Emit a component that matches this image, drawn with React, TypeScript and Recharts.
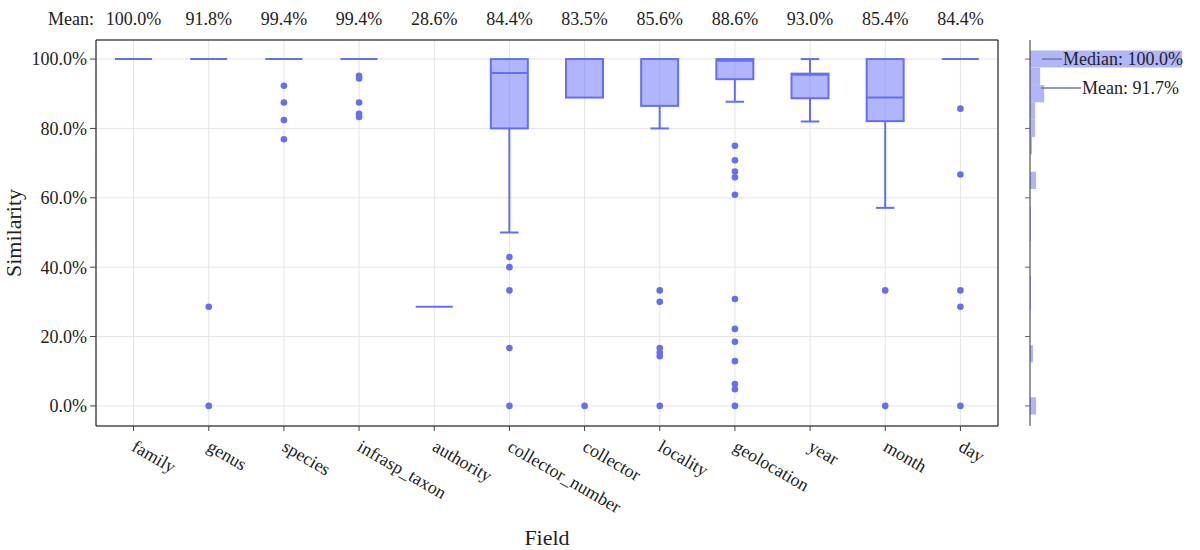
import React from 'react';
import { ComposedChart, Bar, Scatter, XAxis, YAxis, CartesianGrid, ReferenceLine } from 'recharts';

const FONT = '"Liberation Serif", "Times New Roman", serif';
const BLUE = '#636efa';
const BLUE_FILL = 'rgba(99, 110, 250, 0.5)';
const TEXT = '#222';

const fields = ['family', 'genus', 'species', 'infrasp_taxon', 'authority', 'collector_number', 'collector', 'locality', 'geolocation', 'year', 'month', 'day'];
const means = [100.0, 91.8, 99.4, 99.4, 28.6, 84.4, 83.5, 85.6, 88.6, 93.0, 85.4, 84.4];
const lowerFence = [100, 100, 100, 100, 28.6, 50, 88.9, 80, 87.7, 82, 57.1, 100];
const q1 = [100, 100, 100, 100, 28.6, 80, 88.9, 86.5, 94.2, 88.7, 82.1, 100];
const medians = [100, 100, 100, 100, 28.6, 96, 100, 100, 99.5, 95.5, 88.9, 100];
const q3 = [100, 100, 100, 100, 28.6, 100, 100, 100, 100, 95.8, 100, 100];
const upperFence = [100, 100, 100, 100, 28.6, 100, 100, 100, 100, 100, 100, 100];
const outliers: number[][] = [
  [],
  [28.6, 0],
  [92.3, 87.5, 82.4, 76.9],
  [95.2, 94.4, 87.5, 84.2, 83.3],
  [],
  [42.9, 40, 33.3, 16.7, 0],
  [0],
  [33.3, 30, 16.7, 15.4, 14.3, 0],
  [75, 70.8, 67.6, 65.9, 60.9, 30.8, 22.2, 18.5, 12.9, 6.3, 4.8, 0],
  [],
  [33.3, 0],
  [85.7, 66.7, 33.3, 28.6, 0],
];

const yTicks = [0, 20, 40, 60, 80, 100];
const yDomain: [number, number] = [-5.8, 105.5];

// distribution on the right margin
const histBins = [100, 95, 90, 85, 80, 75, 65, 55, 50, 35, 30, 15, 0];
const histCounts = [150, 10, 14, 5, 5, 2, 6, 1, 1, 1, 1, 3, 6];

const maxOutliers = Math.max(...outliers.map((o) => o.length));
const outlierKeys = Array.from({ length: maxOutliers }, (_, k) => `o${k}`);

const boxData = fields.map((field, i) => {
  const row: Record<string, any> = {
    field,
    mean: means[i],
    lo: lowerFence[i],
    q1: q1[i],
    med: medians[i],
    q3: q3[i],
    hi: upperFence[i],
  };
  outlierKeys.forEach((k, j) => {
    row[k] = outliers[i][j] ?? null;
  });
  return row;
});

const histData = histBins.map((bin, i) => ({ bin, count: histCounts[i] }));
const histTotal = histCounts.reduce((a, b) => a + b, 0);
const histMean = histBins.reduce((s, b, i) => s + b * histCounts[i], 0) / histTotal;
const histMedian = (() => {
  const sorted = histBins.map((b, i) => ({ b, c: histCounts[i] })).sort((a, b) => a.b - b.b);
  let acc = 0;
  for (const { b, c } of sorted) {
    acc += c;
    if (acc >= histTotal / 2) return b;
  }
  return 0;
})();

const pct = (v: number) => `${v.toFixed(1)}%`;

function BoxShape(props: any) {
  const { x, y, width, height, payload } = props;
  const { lo, q1: b1, med, q3: b3, hi } = payload;
  const top = height >= 0 ? y : y + height;
  const h = Math.abs(height);
  const span = hi - lo;
  const toY = (v: number) => (span > 0 ? top + ((hi - v) * h) / span : top);
  const cx = x + width / 2;
  const cap = width / 4;
  if (span === 0) {
    return <line x1={x} x2={x + width} y1={top} y2={top} stroke={BLUE} strokeWidth={2} />;
  }
  return (
    <g>
      {hi > b3 && <line x1={cx} x2={cx} y1={toY(hi)} y2={toY(b3)} stroke={BLUE} strokeWidth={2} />}
      {hi > b3 && <line x1={cx - cap} x2={cx + cap} y1={toY(hi)} y2={toY(hi)} stroke={BLUE} strokeWidth={2} />}
      {lo < b1 && <line x1={cx} x2={cx} y1={toY(b1)} y2={toY(lo)} stroke={BLUE} strokeWidth={2} />}
      {lo < b1 && <line x1={cx - cap} x2={cx + cap} y1={toY(lo)} y2={toY(lo)} stroke={BLUE} strokeWidth={2} />}
      <rect x={x} y={toY(b3)} width={width} height={toY(b1) - toY(b3)} fill={BLUE_FILL} stroke={BLUE} strokeWidth={2} />
      <line x1={x} x2={x + width} y1={toY(med)} y2={toY(med)} stroke={BLUE} strokeWidth={2} />
    </g>
  );
}

function OutlierDot(props: any) {
  const { cx, cy } = props;
  if (cx == null || cy == null || Number.isNaN(cy)) return null;
  return <circle cx={cx} cy={cy} r={3.3} fill={BLUE} />;
}

function FieldTick(props: any) {
  const { x, y, payload } = props;
  const tx = x - 3;
  const ty = y + 17;
  return (
    <text x={tx} y={ty} transform={`rotate(30, ${tx}, ${ty})`} fontSize={18} fontFamily={FONT} fill={TEXT} textAnchor="start">
      {payload.value}
    </text>
  );
}

function MeanTick(props: any) {
  const { x, index } = props;
  return (
    <text x={x} y={25} fontSize={18} fontFamily={FONT} fill={TEXT} textAnchor="middle">
      {pct(means[index])}
    </text>
  );
}

const EmptyTick = () => <g />;

function annotation(text: string, start: number, end: number) {
  return (props: any) => {
    const vb = props.viewBox || {};
    const x0 = vb.x ?? 0;
    const yy = vb.y ?? 0;
    return (
      <g>
        <line x1={x0 + start} x2={x0 + end} y1={yy} y2={yy} stroke="#6f7d93" strokeWidth={1.5} />
        <text x={x0 + end + 1} y={yy} dy="0.35em" fontSize={18} fontFamily={FONT} fill={TEXT}>
          {text}
        </text>
      </g>
    );
  };
}

export default function App() {
  return (
    <div style={{ position: 'absolute', left: 0, top: 0, width: 1200, height: 550, background: '#fff' }}>
      <div style={{ position: 'absolute', left: 0, top: 0 }}>
        <ComposedChart width={1200} height={550} data={boxData} margin={{ top: 10, right: 201, bottom: 94, left: 0 }}>
          <CartesianGrid stroke="#e4e4e4" />
          <XAxis
            dataKey="field"
            height={30}
            tickSize={5}
            tickMargin={2}
            interval={0}
            tick={<FieldTick />}
            axisLine={{ stroke: '#000' }}
            tickLine={{ stroke: '#444' }}
            label={(p: any) => {
              const vb = p.viewBox || {};
              return (
                <text x={vb.x + vb.width / 2} y={545} fontSize={22} fontFamily={FONT} fill={TEXT} textAnchor="middle">
                  Field
                </text>
              );
            }}
          />
          <XAxis
            xAxisId="top"
            dataKey="field"
            orientation="top"
            height={30}
            tickSize={0}
            tickMargin={0}
            interval={0}
            tick={<MeanTick />}
            tickLine={false}
            axisLine={{ stroke: '#000' }}
            label={(p: any) => {
              const vb = p.viewBox || {};
              return (
                <text x={vb.x - 2} y={25} fontSize={18} fontFamily={FONT} fill={TEXT} textAnchor="end">
                  Mean:
                </text>
              );
            }}
          />
          <YAxis
            type="number"
            domain={yDomain}
            ticks={yTicks}
            allowDataOverflow
            width={96}
            tickSize={6}
            tickMargin={3}
            tickFormatter={pct}
            tick={{ fontSize: 18, fontFamily: FONT, fill: TEXT }}
            axisLine={{ stroke: '#000' }}
            tickLine={{ stroke: '#444' }}
            label={(p: any) => {
              const vb = p.viewBox || {};
              const cy = vb.y + vb.height / 2;
              return (
                <text x={21} y={cy} transform={`rotate(-90, 21, ${cy})`} fontSize={22} fontFamily={FONT} fill={TEXT} textAnchor="middle">
                  Similarity
                </text>
              );
            }}
          />
          <YAxis yAxisId="frame" orientation="right" type="number" domain={yDomain} width={1} tick={false} tickLine={false} axisLine={{ stroke: '#000' }} />
          <Bar dataKey={(r: any) => [r.lo, r.hi]} barSize={37} shape={<BoxShape />} isAnimationActive={false} />
          {outlierKeys.map((k) => (
            <Scatter key={k} dataKey={k} shape={<OutlierDot />} isAnimationActive={false} />
          ))}
        </ComposedChart>
      </div>
      <div style={{ position: 'absolute', left: 1000, top: 0 }}>
        <ComposedChart
          layout="vertical"
          width={200}
          height={550}
          data={histData}
          barCategoryGap={0}
          barGap={0}
          margin={{ top: 40, right: 18, bottom: 124, left: 0 }}
        >
          <XAxis type="number" domain={[0, 150]} hide />
          <YAxis
            type="number"
            dataKey="bin"
            domain={yDomain}
            ticks={yTicks}
            reversed
            allowDataOverflow
            width={30}
            tickSize={5}
            tick={<EmptyTick />}
            axisLine={{ stroke: '#333' }}
            tickLine={{ stroke: '#666' }}
          />
          <Bar dataKey="count" barSize={17.2} fill={BLUE_FILL} isAnimationActive={false} />
          <ReferenceLine y={histMedian} stroke="none" ifOverflow="visible" label={annotation(`Median: ${pct(histMedian)}`, 12, 32)} />
          <ReferenceLine y={histMean} stroke="none" ifOverflow="visible" label={annotation(`Mean: ${pct(histMean)}`, 11, 51)} />
        </ComposedChart>
      </div>
    </div>
  );
}
